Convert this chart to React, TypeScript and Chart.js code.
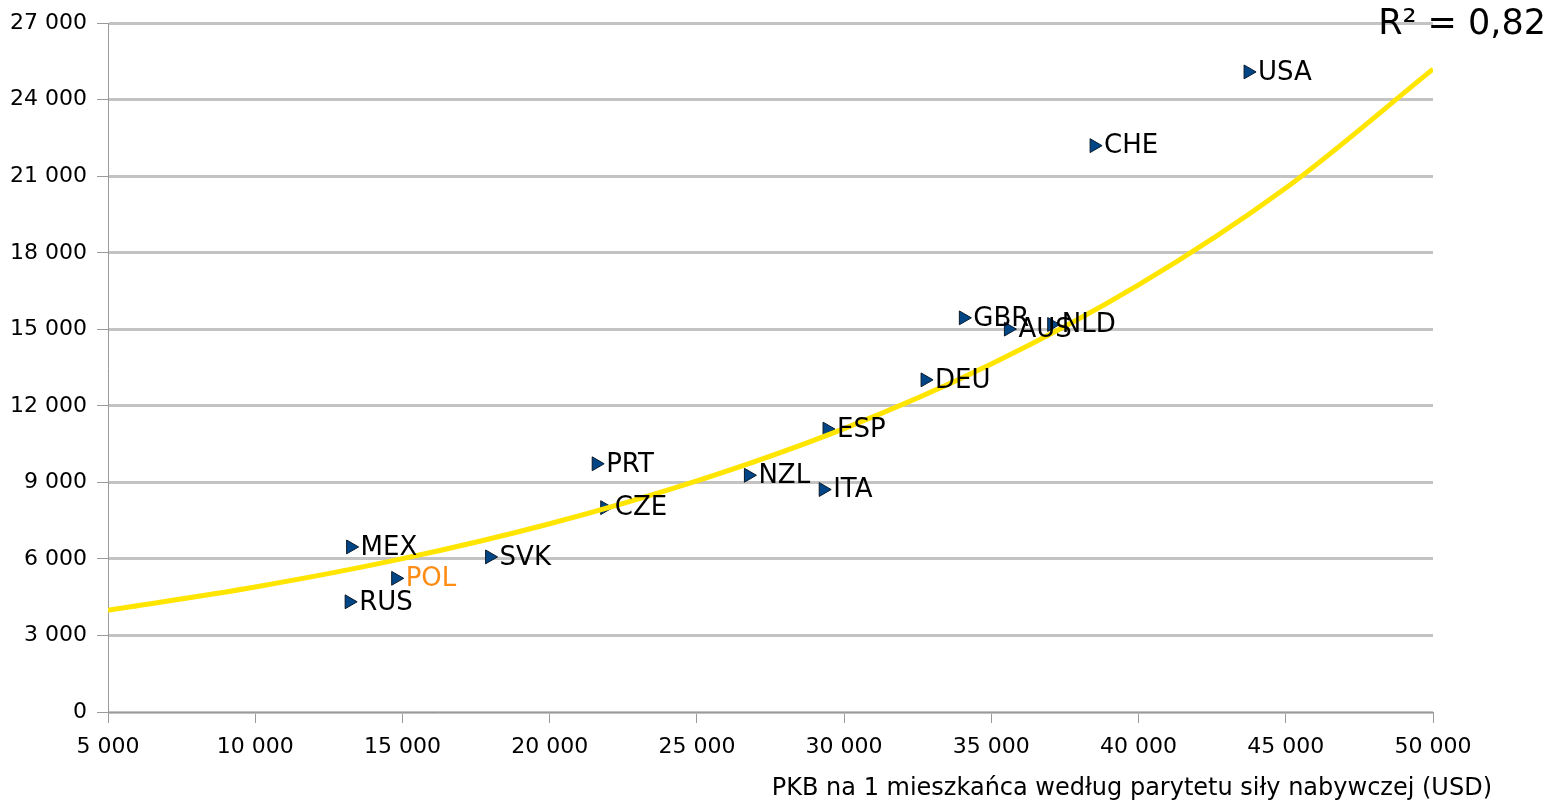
import React, { useEffect, useRef } from "react";
import { Chart, registerables } from "chart.js";

Chart.register(...registerables);

const countries = ["USA", "CHE", "GBR", "AUS", "NLD", "DEU", "ESP", "PRT", "NZL", "ITA", "CZE", "MEX", "SVK", "POL", "RUS"];
const gdpPerCapitaPpp = [43720, 38490, 34050, 35580, 37050, 32750, 29420, 21580, 26750, 29290, 21870, 13240, 17960, 14770, 13190];
const indicatorValues = [25090, 22200, 15450, 15010, 15190, 13020, 11090, 9730, 9280, 8720, 8010, 6470, 6080, 5240, 4320];
const highlighted = ["POL"];

const trendX = [5000, 10000, 15000, 20000, 25000, 30000, 35000, 40000, 45000, 50000];
const trendY = [3990, 4900, 6010, 7380, 9060, 11110, 13640, 16740, 20540, 25200];

const rSquaredLabel = "R² = 0,82";
const xAxisTitle = "PKB na 1 mieszkańca według parytetu siły nabywczej (USD)";

const FONT = "'DejaVu Sans', Verdana, sans-serif";
const POINT_R = 8;

const fmt = (v: number) => String(v).replace(/\B(?=(\d{3})+(?!\d))/g, " ");

export default function App() {
  const ref = useRef<HTMLCanvasElement | null>(null);

  useEffect(() => {
    if (!ref.current) return;
    const labelsPlugin = {
      id: "pointLabels",
      afterDatasetsDraw(chart: any) {
        const meta = chart.getDatasetMeta(1);
        const ctx = chart.ctx;
        ctx.save();
        ctx.font = `26px ${FONT}`;
        ctx.textBaseline = "middle";
        ctx.textAlign = "left";
        meta.data.forEach((el: any, i: number) => {
          const name = countries[i];
          ctx.fillStyle = highlighted.includes(name) ? "#ff8c14" : "#000000";
          ctx.fillText(name, el.x + POINT_R + 2, el.y + 1);
        });
        ctx.restore();
      },
      afterDraw(chart: any) {
        const ctx = chart.ctx;
        ctx.save();
        ctx.fillStyle = "#000000";
        ctx.textBaseline = "middle";
        ctx.textAlign = "right";
        ctx.font = `24px ${FONT}`;
        ctx.fillText(xAxisTitle, 1492, 789);
        ctx.font = `35px ${FONT}`;
        ctx.fillText(rSquaredLabel, 1546, 25);
        ctx.restore();
      },
    };

    const chart = new Chart(ref.current, {
      type: "scatter",
      data: {
        datasets: [
          {
            type: "line",
            data: trendX.map((x, i) => ({ x, y: trendY[i] })),
            borderColor: "#ffe500",
            borderWidth: 5,
            pointRadius: 0,
            fill: false,
            cubicInterpolationMode: "monotone",
            order: 0,
          } as any,
          {
            type: "scatter",
            data: gdpPerCapitaPpp.map((x, i) => ({ x, y: indicatorValues[i] })),
            pointStyle: "triangle",
            rotation: 90,
            pointRadius: POINT_R,
            backgroundColor: "#004586",
            borderColor: "#0a1a2a",
            borderWidth: 1,
            order: 1,
          } as any,
        ],
      },
      options: {
        responsive: false,
        animation: false,
        devicePixelRatio: 1,
        events: [],
        layout: { padding: { top: 22, right: 117, bottom: 0, left: 0 } },
        plugins: { legend: { display: false }, tooltip: { enabled: false }, title: { display: false } },
        scales: {
          x: {
            type: "linear",
            min: 5000,
            max: 50000,
            afterFit: (s: any) => {
              s.height = 91;
            },
            ticks: {
              stepSize: 5000,
              color: "#000",
              padding: 11,
              maxRotation: 0,
              font: { family: FONT, size: 22 },
              callback: (v: any) => fmt(Number(v)),
            },
            grid: {
              drawOnChartArea: false,
              drawTicks: true,
              tickLength: 11,
              tickColor: "#9a9a9a",
              tickWidth: 1,
            },
            border: { display: true, color: "#9a9a9a", width: 1 },
          },
          y: {
            type: "linear",
            min: 0,
            max: 27000,
            afterFit: (s: any) => {
              s.width = 108;
            },
            ticks: {
              stepSize: 3000,
              color: "#000",
              padding: 10,
              font: { family: FONT, size: 22 },
              callback: (v: any) => fmt(Number(v)),
            },
            grid: {
              color: "#c3c3c3",
              lineWidth: 3,
              drawTicks: true,
              tickLength: 11,
              tickColor: "#9a9a9a",
              tickWidth: 1,
            },
            border: { display: true, color: "#9a9a9a", width: 1 },
          },
        },
      },
      plugins: [labelsPlugin],
    });
    return () => chart.destroy();
  }, []);

  return (
    <div style={{ position: "absolute", left: 0, top: 0, width: 1550, height: 803, background: "#fff" }}>
      <canvas ref={ref} width={1550} height={803} style={{ display: "block" }} />
    </div>
  );
}
